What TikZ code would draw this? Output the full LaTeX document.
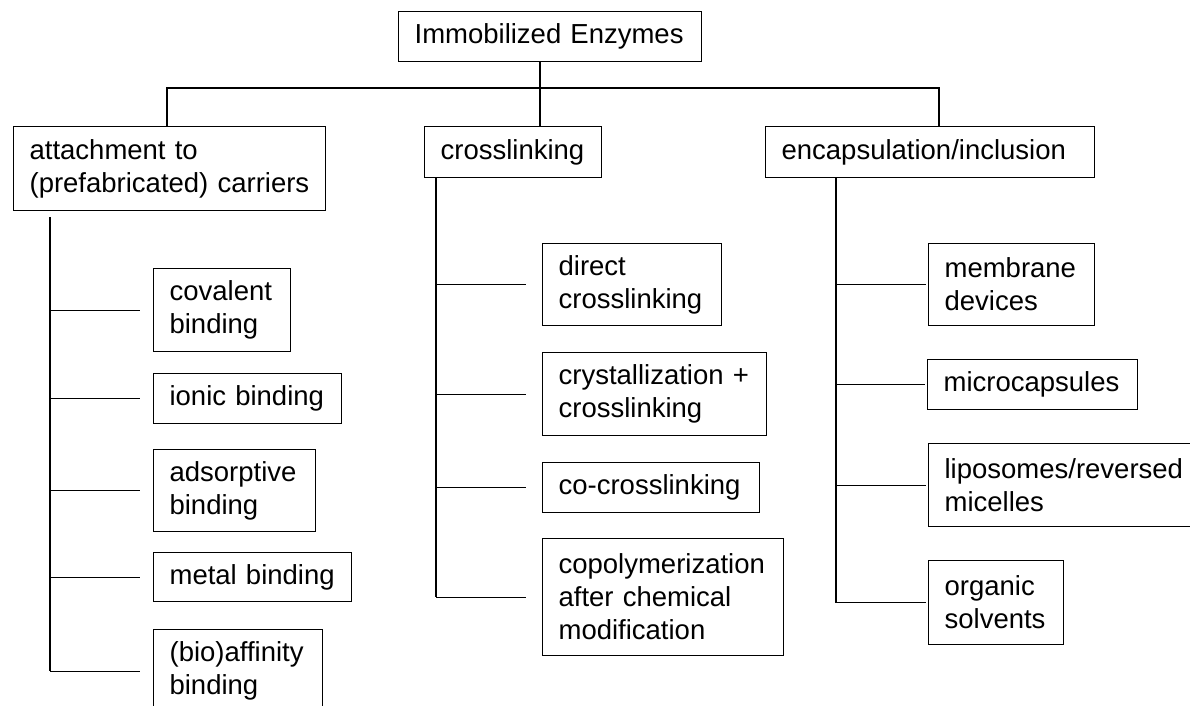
\documentclass[tikz,border=0pt]{standalone}
\usepackage{fontspec}
\setmainfont{Liberation Sans}
\hyphenpenalty=10000
\exhyphenpenalty=10000
\begin{document}
\begin{tikzpicture}[x=1pt,y=-1pt,
  box/.style={draw, line width=1.2pt, anchor=north west, inner xsep=16pt, inner ysep=0pt,
    align=left, font=\fontsize{27.5}{33}\selectfont},
  link/.style={draw, line width=1.2pt}]
\useasboundingbox (0,0) rectangle (1190,705);
\clip (0,0) rectangle (1190,705);
\fill[white] (0,0) rectangle (1190,705);

% root and level 1
\node[box, text width=271pt, minimum height=50pt] (root) at (398,11) {Immobilized Enzymes};
\node[box, text width=280pt, minimum height=84pt] (attach) at (13,126) {attachment to\\(prefabricated) carriers};
\node[box, text width=145pt, minimum height=51pt] (cross) at (424,126) {crosslinking};
\node[box, text width=297pt, minimum height=51pt] (encap) at (765,126) {encapsulation/inclusion};

% level 2: attachment
\node[box, text width=105pt, minimum height=83pt] (cov) at (153,268) {covalent\\binding};
\node[box, text width=156pt, minimum height=50pt] (ionic) at (153,373) {ionic binding};
\node[box, text width=130pt, minimum height=82pt] (ads) at (153,449) {adsorptive\\binding};
\node[box, text width=166pt, minimum height=49pt] (metal) at (153,552) {metal binding};
\node[box, text width=137pt, minimum height=83pt] (bio) at (153,629) {(bio)affinity\\binding};

% level 2: crosslinking
\node[box, text width=147pt, minimum height=82pt] (direct) at (542,243) {direct\\crosslinking};
\node[box, text width=192pt, minimum height=83pt] (cryst) at (542,352) {crystallization +\\crosslinking};
\node[box, text width=185pt, minimum height=50pt] (cocross) at (542,462) {co-crosslinking};
\node[box, text width=209pt, minimum height=117pt] (copoly) at (542,538) {copolymerization\\after chemical\\modification};

% level 2: encapsulation
\node[box, text width=134pt, minimum height=82pt] (memb) at (928,243) {membrane\\devices};
\node[box, text width=178pt, minimum height=50pt] (micro) at (927,359) {microcapsules};
\node[box, text width=240pt, minimum height=83pt] (lipo) at (928,443) {liposomes/reversed\\micelles};
\node[box, text width=103pt, minimum height=84pt] (org) at (928,560) {organic\\solvents};

% top connectors
\coordinate (hub) at (540,88);
\coordinate (hl) at (167,88);
\coordinate (hr) at (939,88);
\draw[link] (hub |- root.south) -- (hub |- cross.north);
\draw[link] (hl |- attach.north) -- (hl) -- (hr) -- (hr |- encap.north);

% trunks
\coordinate (ta) at (50,217);
\coordinate (tb) at (436,177);
\coordinate (tc) at (836,177);
\draw[link] (ta) -- (ta |- bio.west);
\draw[link] (tb) -- (tb |- copoly.west);
\draw[link] (tc) -- (tc |- org.west);

% branches
\foreach \n in {cov,ionic,ads,metal,bio}
  \draw[link] (ta |- \n.west) -- ([xshift=-13pt]\n.west);
\foreach \n in {direct,cryst,cocross,copoly}
  \draw[link] (tb |- \n.west) -- ([xshift=-16pt]\n.west);
\foreach \n in {memb,micro,lipo,org}
  \draw[link] (tc |- \n.west) -- ([xshift=-2pt]\n.west);
\end{tikzpicture}
\end{document}
